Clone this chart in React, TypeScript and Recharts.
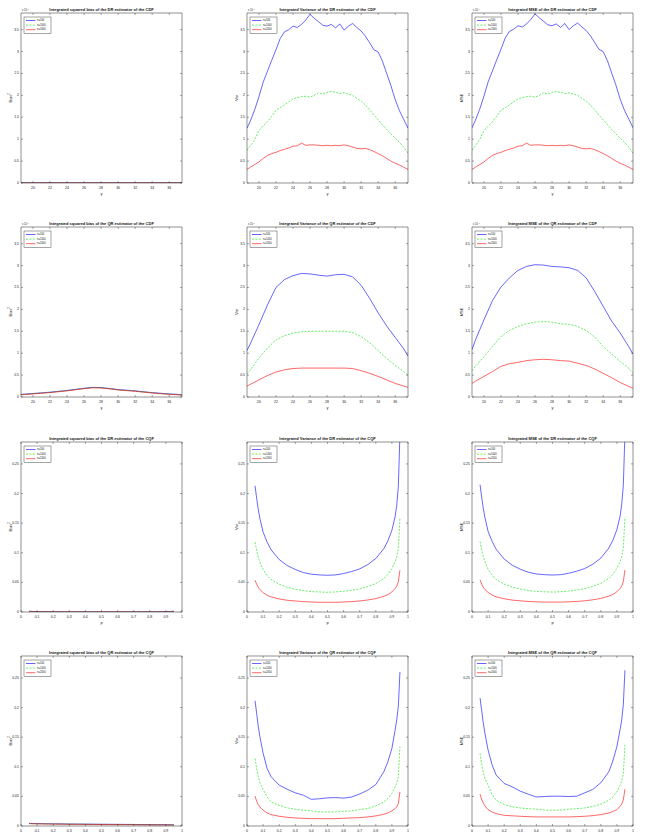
import React from "react";
import { LineChart, Line, XAxis, YAxis } from "recharts";

// plot-area geometry (px)
const PW = 161;
const PH = 170;
const ML = 24;
const MT = 14;
const MR = 4;
const MB = 18;
const COLS = [21, 247, 472];
const ROWS = [13, 227, 442, 656];
const INK = "#222";
const FONT = "'Liberation Sans', Arial, sans-serif";

const seriesNames = ["n=500", "n=1000", "n=2000"];
const seriesColors = ["#0000ff", "#00e000", "#ff0000"];

// ---- CDF panels (values in units of 1e-4) ----
const cdfXTicks = [20, 22, 24, 26, 28, 30, 32, 34, 36];
const cdfYTicks = [0, 0.5, 1, 1.5, 2, 2.5, 3, 3.5];
const yFine = [18.6, 19, 19.5, 20, 20.5, 21, 21.5, 22, 22.5, 23, 23.5, 24, 24.5, 25, 25.5, 26, 26.5, 27, 27.5, 28, 28.5, 29, 29.5, 30, 30.5, 31, 31.5, 32, 32.5, 33, 33.5, 34, 34.5, 35, 35.5, 36, 36.5, 37, 37.5];
const yCoarse = [18.6, 19, 20, 21, 22, 23, 24, 25, 26, 27, 28, 29, 30, 31, 32, 33, 34, 35, 36, 37, 37.5];

const drCdfBias500 = [0.006, 0.006, 0.005, 0.005, 0.005, 0.004, 0.004, 0.004, 0.004, 0.004, 0.004, 0.004, 0.004, 0.004, 0.004, 0.004, 0.005, 0.005, 0.005, 0.006, 0.006];
const drCdfBias1000 = [0.004, 0.004, 0.003, 0.003, 0.003, 0.003, 0.003, 0.003, 0.003, 0.003, 0.003, 0.003, 0.003, 0.003, 0.003, 0.003, 0.003, 0.003, 0.003, 0.004, 0.004];
const drCdfBias2000 = [0.002, 0.002, 0.002, 0.002, 0.002, 0.002, 0.002, 0.002, 0.002, 0.002, 0.002, 0.002, 0.002, 0.002, 0.002, 0.002, 0.002, 0.002, 0.002, 0.002, 0.002];

const drCdfVar500 = [1.25, 1.42, 1.67, 1.97, 2.3, 2.55, 2.8, 3.04, 3.3, 3.45, 3.5, 3.58, 3.55, 3.62, 3.72, 3.85, 3.76, 3.68, 3.6, 3.58, 3.62, 3.54, 3.63, 3.49, 3.58, 3.64, 3.55, 3.47, 3.35, 3.2, 3.04, 2.99, 2.78, 2.5, 2.22, 1.9, 1.65, 1.45, 1.25];
const drCdfVar1000 = [0.75, 0.85, 0.98, 1.2, 1.3, 1.4, 1.52, 1.66, 1.72, 1.78, 1.85, 1.92, 1.95, 1.97, 1.98, 1.96, 2.0, 2.06, 2.03, 2.07, 2.09, 2.07, 2.04, 2.06, 2.03, 2.0, 1.93, 1.87, 1.78, 1.67, 1.55, 1.44, 1.33, 1.22, 1.12, 1.02, 0.93, 0.82, 0.68];
const drCdfVar2000 = [0.31, 0.36, 0.42, 0.48, 0.56, 0.63, 0.67, 0.7, 0.74, 0.77, 0.8, 0.84, 0.85, 0.91, 0.86, 0.87, 0.87, 0.86, 0.85, 0.86, 0.85, 0.86, 0.85, 0.87, 0.85, 0.82, 0.79, 0.78, 0.79, 0.76, 0.72, 0.67, 0.62, 0.56, 0.5, 0.45, 0.41, 0.36, 0.31];

const drCdfMse500 = [1.26, 1.43, 1.68, 1.98, 2.31, 2.56, 2.81, 3.05, 3.31, 3.46, 3.51, 3.59, 3.56, 3.63, 3.73, 3.86, 3.77, 3.69, 3.61, 3.59, 3.63, 3.55, 3.64, 3.5, 3.59, 3.65, 3.56, 3.48, 3.36, 3.21, 3.05, 3.0, 2.79, 2.51, 2.23, 1.91, 1.66, 1.46, 1.26];
const drCdfMse1000 = [0.75, 0.85, 0.99, 1.2, 1.3, 1.4, 1.52, 1.66, 1.72, 1.78, 1.85, 1.92, 1.95, 1.97, 1.98, 1.96, 2.0, 2.06, 2.03, 2.07, 2.09, 2.07, 2.04, 2.06, 2.03, 2.0, 1.93, 1.87, 1.78, 1.67, 1.55, 1.44, 1.33, 1.22, 1.12, 1.02, 0.93, 0.82, 0.68];
const drCdfMse2000 = [0.31, 0.36, 0.42, 0.48, 0.56, 0.63, 0.67, 0.7, 0.74, 0.77, 0.8, 0.84, 0.85, 0.91, 0.86, 0.87, 0.87, 0.86, 0.85, 0.86, 0.85, 0.86, 0.85, 0.87, 0.85, 0.82, 0.79, 0.78, 0.79, 0.76, 0.72, 0.67, 0.62, 0.56, 0.5, 0.45, 0.41, 0.36, 0.31];

const qrCdfBias500 = [0.06, 0.065, 0.08, 0.095, 0.11, 0.13, 0.15, 0.175, 0.2, 0.22, 0.215, 0.195, 0.17, 0.155, 0.14, 0.12, 0.1, 0.085, 0.07, 0.06, 0.05];
const qrCdfBias1000 = [0.055, 0.06, 0.075, 0.09, 0.105, 0.125, 0.145, 0.17, 0.195, 0.215, 0.21, 0.19, 0.165, 0.15, 0.135, 0.115, 0.095, 0.08, 0.065, 0.055, 0.045];
const qrCdfBias2000 = [0.05, 0.055, 0.07, 0.085, 0.1, 0.12, 0.14, 0.165, 0.19, 0.21, 0.205, 0.185, 0.16, 0.145, 0.13, 0.11, 0.09, 0.075, 0.06, 0.05, 0.04];

const qrCdfVar500 = [1.06, 1.22, 1.65, 2.1, 2.5, 2.68, 2.77, 2.82, 2.81, 2.78, 2.76, 2.79, 2.8, 2.74, 2.55, 2.25, 1.92, 1.62, 1.36, 1.1, 0.93];
const qrCdfVar1000 = [0.53, 0.62, 0.89, 1.12, 1.3, 1.4, 1.46, 1.49, 1.5, 1.5, 1.5, 1.5, 1.5, 1.47, 1.38, 1.24, 1.06, 0.88, 0.72, 0.58, 0.5];
const qrCdfVar2000 = [0.25, 0.29, 0.39, 0.49, 0.57, 0.62, 0.65, 0.66, 0.66, 0.66, 0.66, 0.66, 0.66, 0.65, 0.6, 0.54, 0.47, 0.39, 0.31, 0.25, 0.22];

const qrCdfMse500 = [1.08, 1.3, 1.76, 2.2, 2.51, 2.72, 2.89, 2.98, 3.02, 3.01, 2.98, 2.97, 2.95, 2.89, 2.72, 2.41, 2.07, 1.73, 1.46, 1.15, 0.98];
const qrCdfMse1000 = [0.6, 0.7, 0.92, 1.15, 1.38, 1.52, 1.61, 1.67, 1.71, 1.72, 1.71, 1.67, 1.66, 1.61, 1.52, 1.37, 1.15, 0.98, 0.81, 0.66, 0.54];
const qrCdfMse2000 = [0.31, 0.36, 0.47, 0.58, 0.7, 0.76, 0.79, 0.83, 0.85, 0.86, 0.85, 0.83, 0.82, 0.77, 0.72, 0.64, 0.54, 0.44, 0.33, 0.24, 0.2];

// ---- CQF panels ----
const cqfXTicks = [0, 0.1, 0.2, 0.3, 0.4, 0.5, 0.6, 0.7, 0.8, 0.9, 1];
const cqfYTicks = [0, 0.05, 0.1, 0.15, 0.2, 0.25];
const pGrid = [0.05, 0.06, 0.07, 0.08, 0.1, 0.125, 0.15, 0.2, 0.25, 0.3, 0.35, 0.4, 0.45, 0.5, 0.55, 0.6, 0.65, 0.7, 0.75, 0.8, 0.85, 0.875, 0.9, 0.92, 0.93, 0.94, 0.95];

const drCqfBias500 = [0.0015, 0.0012, 0.001, 0.0009, 0.0007, 0.0005, 0.0004, 0.0003, 0.0003, 0.0002, 0.0002, 0.0002, 0.0002, 0.0002, 0.0002, 0.0002, 0.0002, 0.0002, 0.0003, 0.0003, 0.0004, 0.0005, 0.0007, 0.0009, 0.001, 0.0012, 0.0016];
const drCqfBias1000 = [0.0009, 0.0007, 0.0006, 0.0005, 0.0004, 0.0003, 0.0002, 0.0002, 0.0002, 0.0001, 0.0001, 0.0001, 0.0001, 0.0001, 0.0001, 0.0001, 0.0001, 0.0001, 0.0002, 0.0002, 0.0002, 0.0003, 0.0004, 0.0005, 0.0006, 0.0007, 0.0009];
const drCqfBias2000 = [0.0005, 0.0004, 0.0003, 0.0003, 0.0002, 0.0002, 0.0001, 0.0001, 0.0001, 0.0001, 0.0001, 0.0001, 0.0001, 0.0001, 0.0001, 0.0001, 0.0001, 0.0001, 0.0001, 0.0001, 0.0001, 0.0002, 0.0002, 0.0003, 0.0003, 0.0004, 0.0005];

const drCqfVar500 = [0.213, 0.192, 0.173, 0.158, 0.135, 0.118, 0.105, 0.0886, 0.0784, 0.0717, 0.0666, 0.0638, 0.0626, 0.062, 0.0626, 0.0649, 0.0683, 0.0728, 0.08, 0.0903, 0.107, 0.12, 0.138, 0.161, 0.18, 0.212, 0.3];
const drCqfVar1000 = [0.118, 0.104, 0.093, 0.084, 0.0717, 0.0615, 0.0547, 0.0468, 0.0418, 0.0384, 0.0361, 0.0344, 0.0339, 0.0333, 0.0339, 0.035, 0.0367, 0.039, 0.0429, 0.048, 0.0564, 0.0632, 0.0734, 0.0847, 0.093, 0.107, 0.158];
const drCqfVar2000 = [0.0536, 0.0468, 0.0418, 0.0378, 0.0327, 0.0282, 0.0254, 0.022, 0.0198, 0.0186, 0.0175, 0.0169, 0.0164, 0.0164, 0.0164, 0.0169, 0.0175, 0.0186, 0.0203, 0.0226, 0.0265, 0.0293, 0.0339, 0.0395, 0.0435, 0.0508, 0.0705];

const drCqfMse500 = [0.215, 0.194, 0.175, 0.16, 0.136, 0.119, 0.106, 0.0893, 0.079, 0.0722, 0.0671, 0.0642, 0.063, 0.0624, 0.063, 0.0653, 0.0688, 0.0733, 0.0806, 0.091, 0.108, 0.121, 0.139, 0.162, 0.182, 0.214, 0.302];
const drCqfMse1000 = [0.119, 0.105, 0.094, 0.085, 0.0722, 0.0619, 0.055, 0.0471, 0.0421, 0.0387, 0.0364, 0.0347, 0.0342, 0.0336, 0.0342, 0.0353, 0.037, 0.0393, 0.0432, 0.0484, 0.0568, 0.0636, 0.0738, 0.0852, 0.0935, 0.108, 0.16];
const drCqfMse2000 = [0.054, 0.0471, 0.0421, 0.0381, 0.033, 0.0285, 0.0257, 0.0223, 0.0201, 0.0189, 0.0178, 0.0172, 0.0167, 0.0167, 0.0167, 0.0172, 0.0178, 0.0189, 0.0206, 0.0229, 0.0268, 0.0296, 0.0342, 0.0398, 0.0439, 0.0512, 0.071];

const qrCqfBias500 = [0.0045, 0.0044, 0.0043, 0.0042, 0.0041, 0.004, 0.0039, 0.0037, 0.0036, 0.0034, 0.0033, 0.0032, 0.0031, 0.003, 0.0029, 0.0028, 0.0027, 0.0026, 0.0025, 0.0024, 0.0023, 0.0023, 0.0022, 0.0022, 0.0022, 0.0021, 0.0021];
const qrCqfBias1000 = [0.0042, 0.0041, 0.004, 0.0039, 0.0038, 0.0037, 0.0036, 0.0034, 0.0033, 0.0031, 0.003, 0.0029, 0.0028, 0.0027, 0.0026, 0.0025, 0.0024, 0.0023, 0.0022, 0.0021, 0.002, 0.002, 0.0019, 0.0019, 0.0019, 0.0018, 0.0018];
const qrCqfBias2000 = [0.004, 0.0039, 0.0038, 0.0037, 0.0036, 0.0035, 0.0034, 0.0032, 0.0031, 0.0029, 0.0028, 0.0027, 0.0026, 0.0025, 0.0024, 0.0023, 0.0022, 0.0021, 0.002, 0.0019, 0.0018, 0.0018, 0.0017, 0.0017, 0.0017, 0.0016, 0.0016];

const qrCqfVar500 = [0.2115, 0.19, 0.168, 0.151, 0.123, 0.097, 0.083, 0.069, 0.062, 0.056, 0.052, 0.045, 0.046, 0.0475, 0.048, 0.047, 0.049, 0.054, 0.0605, 0.07, 0.0916, 0.1086, 0.131, 0.162, 0.179, 0.202, 0.26];
const qrCqfVar1000 = [0.114, 0.097, 0.083, 0.073, 0.0617, 0.049, 0.0407, 0.035, 0.0305, 0.0283, 0.0266, 0.0255, 0.0238, 0.0238, 0.0238, 0.0249, 0.0255, 0.0277, 0.0294, 0.034, 0.0407, 0.0464, 0.055, 0.066, 0.072, 0.083, 0.134];
const qrCqfVar2000 = [0.0503, 0.0419, 0.0362, 0.0322, 0.0266, 0.022, 0.0192, 0.0164, 0.0147, 0.0136, 0.013, 0.0124, 0.0124, 0.0124, 0.0124, 0.013, 0.0136, 0.0141, 0.0153, 0.017, 0.0198, 0.022, 0.0255, 0.0294, 0.0322, 0.0379, 0.0577];

const qrCqfMse500 = [0.216, 0.195, 0.174, 0.157, 0.128, 0.103, 0.086, 0.0718, 0.066, 0.0588, 0.0537, 0.049, 0.0498, 0.0503, 0.0503, 0.0498, 0.0503, 0.056, 0.0617, 0.073, 0.0916, 0.11, 0.134, 0.163, 0.179, 0.205, 0.263];
const qrCqfMse1000 = [0.1227, 0.105, 0.091, 0.08, 0.069, 0.053, 0.0436, 0.0362, 0.0325, 0.0305, 0.0292, 0.0283, 0.027, 0.0266, 0.027, 0.0283, 0.0292, 0.0305, 0.033, 0.0368, 0.0436, 0.049, 0.0577, 0.069, 0.076, 0.088, 0.137];
const qrCqfMse2000 = [0.0537, 0.045, 0.039, 0.034, 0.0277, 0.0235, 0.0209, 0.018, 0.0172, 0.0164, 0.0158, 0.0153, 0.0153, 0.0153, 0.0153, 0.0153, 0.0158, 0.0164, 0.0175, 0.0192, 0.022, 0.0245, 0.0277, 0.033, 0.037, 0.044, 0.0622];

type Row = { x: number; a: number; b: number; c: number };
const zip = (xs: number[], a: number[], b: number[], c: number[]): Row[] =>
  xs.map((x, i) => ({ x, a: a[i], b: b[i], c: c[i] }));

type AxisCfg = { xDomain: number[]; xTicks: number[]; yDomain: number[]; yTicks: number[]; xLabel: string; expo: boolean };
const cdfAxis: AxisCfg = { xDomain: [18.6, 37.5], xTicks: cdfXTicks, yDomain: [0, 3.88], yTicks: cdfYTicks, xLabel: "y", expo: true };
const cqfAxis: AxisCfg = { xDomain: [0, 1], xTicks: cqfXTicks, yDomain: [0, 0.287], yTicks: cqfYTicks, xLabel: "p", expo: false };

const panels = [
  { row: 0, col: 0, title: "Integrated squared bias of the DR estimator of the CDF", y: "bias", axis: cdfAxis, data: zip(yCoarse, drCdfBias500, drCdfBias1000, drCdfBias2000) },
  { row: 0, col: 1, title: "Integrated Variance of the DR estimator of the CDF", y: "Var", axis: cdfAxis, data: zip(yFine, drCdfVar500, drCdfVar1000, drCdfVar2000) },
  { row: 0, col: 2, title: "Integrated MSE of the DR estimator of the CDF", y: "MSE", axis: cdfAxis, data: zip(yFine, drCdfMse500, drCdfMse1000, drCdfMse2000) },
  { row: 1, col: 0, title: "Integrated squared bias of the QR estimator of the CDF", y: "bias", axis: cdfAxis, data: zip(yCoarse, qrCdfBias500, qrCdfBias1000, qrCdfBias2000) },
  { row: 1, col: 1, title: "Integrated Variance of the QR estimator of the CDF", y: "Var", axis: cdfAxis, data: zip(yCoarse, qrCdfVar500, qrCdfVar1000, qrCdfVar2000) },
  { row: 1, col: 2, title: "Integrated MSE of the QR estimator of the CDF", y: "MSE", axis: cdfAxis, data: zip(yCoarse, qrCdfMse500, qrCdfMse1000, qrCdfMse2000) },
  { row: 2, col: 0, title: "Integrated squared bias of the DR estimator of the CQF", y: "bias", axis: cqfAxis, data: zip(pGrid, drCqfBias500, drCqfBias1000, drCqfBias2000) },
  { row: 2, col: 1, title: "Integrated Variance of the DR estimator of the CQF", y: "Var", axis: cqfAxis, data: zip(pGrid, drCqfVar500, drCqfVar1000, drCqfVar2000) },
  { row: 2, col: 2, title: "Integrated MSE of the DR estimator of the CQF", y: "MSE", axis: cqfAxis, data: zip(pGrid, drCqfMse500, drCqfMse1000, drCqfMse2000) },
  { row: 3, col: 0, title: "Integrated squared bias of the QR estimator of the CQF", y: "bias", axis: cqfAxis, data: zip(pGrid, qrCqfBias500, qrCqfBias1000, qrCqfBias2000) },
  { row: 3, col: 1, title: "Integrated Variance of the QR estimator of the CQF", y: "Var", axis: cqfAxis, data: zip(pGrid, qrCqfVar500, qrCqfVar1000, qrCqfVar2000) },
  { row: 3, col: 2, title: "Integrated MSE of the QR estimator of the CQF", y: "MSE", axis: cqfAxis, data: zip(pGrid, qrCqfMse500, qrCqfMse1000, qrCqfMse2000) },
];

const W = PW + ML + MR;
const H = PH + MT + MB;
const BOTTOM = MT + PH;
const RIGHT = ML + PW;

function XTick(props: any) {
  const x = props.payload.coordinate;
  return (
    <g>
      <line x1={x} x2={x} y1={BOTTOM} y2={BOTTOM - 2} stroke={INK} strokeWidth={0.4} />
      <line x1={x} x2={x} y1={MT} y2={MT + 2} stroke={INK} strokeWidth={0.4} />
      <text x={x} y={BOTTOM + 5.3} textAnchor="middle" dominantBaseline="central" fontSize={3.5} fill={INK}>
        {String(props.payload.value)}
      </text>
    </g>
  );
}

function YTick(props: any) {
  const y = props.payload.coordinate;
  return (
    <g>
      <line x1={ML} x2={ML + 2} y1={y} y2={y} stroke={INK} strokeWidth={0.4} />
      <line x1={RIGHT} x2={RIGHT - 2} y1={y} y2={y} stroke={INK} strokeWidth={0.4} />
      <text x={ML - 2} y={y} textAnchor="end" dominantBaseline="central" fontSize={3.5} fill={INK}>
        {String(props.payload.value)}
      </text>
    </g>
  );
}

function Panel({ p }: { p: (typeof panels)[number] }) {
  const { axis } = p;
  const axisLine = { stroke: INK, strokeWidth: 0.5 };
  // each axis takes 1px, so margins are 1px smaller to keep the plot box at ML/MT
  return (
    <div style={{ position: "absolute", left: COLS[p.col] - ML, top: ROWS[p.row] - MT, width: W, height: H }}>
      <LineChart width={W} height={H} data={p.data} margin={{ top: MT - 1, right: MR - 1, bottom: MB - 1, left: ML - 1 }}>
        <XAxis dataKey="x" type="number" domain={axis.xDomain} ticks={axis.xTicks} interval={0} allowDataOverflow height={1} tickSize={0} tickLine={false} axisLine={axisLine} tick={(t: any) => <XTick {...t} />} />
        <XAxis xAxisId="top" orientation="top" dataKey="x" type="number" domain={axis.xDomain} ticks={axis.xTicks} height={1} tick={false} tickLine={false} axisLine={axisLine} allowDataOverflow />
        <YAxis type="number" domain={axis.yDomain} ticks={axis.yTicks} interval={0} allowDataOverflow width={1} tickSize={0} tickLine={false} axisLine={axisLine} tick={(t: any) => <YTick {...t} />} />
        <YAxis yAxisId="right" orientation="right" type="number" domain={axis.yDomain} ticks={axis.yTicks} width={1} tick={false} tickLine={false} axisLine={axisLine} allowDataOverflow />
        <Line dataKey="a" stroke={seriesColors[0]} strokeWidth={0.6} dot={false} isAnimationActive={false} />
        <Line dataKey="b" stroke={seriesColors[1]} strokeWidth={0.6} strokeDasharray="2 1.4" dot={false} isAnimationActive={false} />
        <Line dataKey="c" stroke={seriesColors[2]} strokeWidth={0.6} dot={false} isAnimationActive={false} />
      </LineChart>
      <svg width={W} height={H} style={{ position: "absolute", left: 0, top: 0, pointerEvents: "none", fontFamily: FONT }}>
        <text x={ML + PW / 2} y={MT - 3.5} textAnchor="middle" dominantBaseline="central" fontSize={4} fontWeight="bold" fill="#111">
          {p.title}
        </text>
        {axis.expo && (
          <text x={ML + 1} y={MT - 2.2} fontSize={2.6} fill={INK}>
            x 10<tspan dy={-1.2} fontSize={2}>-4</tspan>
          </text>
        )}
        {p.row < 3 && (
          <text x={ML + PW / 2} y={BOTTOM + 10.5} textAnchor="middle" dominantBaseline="central" fontSize={4} fill={INK}>
            {axis.xLabel}
          </text>
        )}
        <text transform={`translate(${ML - 11},${MT + PH / 2}) rotate(-90)`} textAnchor="middle" dominantBaseline="central" fontSize={4} fill={INK}>
          {p.y === "bias" ? (
            <>
              Bias<tspan dy={-1.3} fontSize={2.6}>2</tspan>
            </>
          ) : (
            p.y
          )}
        </text>
        <g>
          <rect x={ML + 3} y={MT + 4} width={27} height={16.5} fill="#fff" stroke={INK} strokeWidth={0.4} />
          {seriesNames.map((n, i) => (
            <g key={n}>
              <line x1={ML + 5} x2={ML + 14.5} y1={MT + 7.5 + i * 4.6} y2={MT + 7.5 + i * 4.6} stroke={seriesColors[i]} strokeWidth={0.6} strokeDasharray={i === 1 ? "2 1.4" : undefined} />
              <text x={ML + 16} y={MT + 7.5 + i * 4.6} dominantBaseline="central" fontSize={2.6} fill={INK}>
                {n}
              </text>
            </g>
          ))}
        </g>
      </svg>
    </div>
  );
}

export default function App() {
  return (
    <div style={{ position: "absolute", left: 0, top: 0, width: 645, height: 834, background: "#fff", fontFamily: FONT }}>
      {panels.map((p) => (
        <Panel key={p.title} p={p} />
      ))}
    </div>
  );
}
